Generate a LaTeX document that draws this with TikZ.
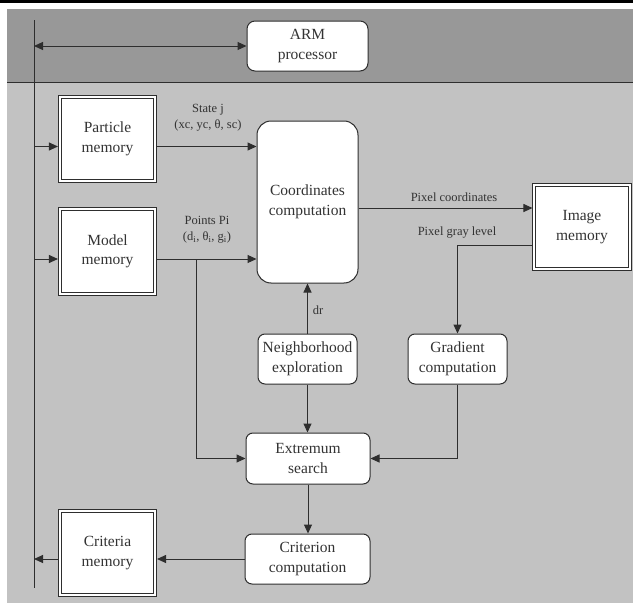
\documentclass[tikz,border=0pt]{standalone}
\usepackage{fontspec}
\setmainfont{Liberation Serif}
\usetikzlibrary{arrows.meta}
\definecolor{bandgray}{HTML}{989898}
\definecolor{lightgray2}{HTML}{C2C2C2}
\definecolor{linegray}{HTML}{2E2E2E}
\definecolor{textgray}{HTML}{333333}
\begin{document}
\begin{tikzpicture}[x=1pt,y=-1pt,
  >={Triangle[length=9pt,width=8pt]},
  rbox/.style={draw=linegray, fill=white, rounded corners=7pt, line width=1pt,
    align=center, inner sep=0pt, font=\fontsize{15.5}{19.5}\selectfont, text=textgray},
  mem/.style={draw=linegray, fill=white, double=white, double distance=1.8pt, line width=0.9pt,
    minimum width=95.5pt, minimum height=84.5pt, outer sep=1.8pt,
    align=center, inner sep=0pt, font=\fontsize{15.5}{19.5}\selectfont, text=textgray},
  lbl/.style={font=\fontsize{12.5}{16}\selectfont, text=textgray, align=center, inner sep=0pt},
  arr/.style={->, draw=linegray, line width=1pt},
  wire/.style={draw=linegray, line width=1pt}]
% background
\useasboundingbox (0,0) rectangle (633,605);
\fill[white] (0,0) rectangle (633,605);
\fill[lightgray2] (7,9) rectangle (633,603);
\fill[bandgray] (7,9) rectangle (633,82);
\draw[linegray, line width=1pt] (7,82) -- (633,82);
\draw[black, line width=2.5pt] (0,1.25) -- (633,1.25);
% nodes
\node[rbox, minimum width=121pt, minimum height=50pt, rounded corners=8pt] (arm) at (307.5,46) {ARM\\processor};
\node[mem] (part) at (107.5,139) {Particle\\memory};
\node[mem] (model) at (107.5,251.5) {Model\\memory};
\node[mem] (imgm) at (582,227) {Image\\memory};
\node[mem] (crit) at (107.5,553) {Criteria\\memory};
\node[rbox, minimum width=101pt, minimum height=162pt, rounded corners=14pt] (coord) at (307.5,202) {Coordinates\\computation};
\node[rbox, minimum width=99pt, minimum height=50pt] (neigh) at (307.5,359) {Neighborhood\\exploration};
\node[rbox, minimum width=99pt, minimum height=50pt] (grad) at (457.5,359) {Gradient\\computation};
\node[rbox, minimum width=124pt, minimum height=51pt] (extr) at (308,458.5) {Extremum\\search};
\node[rbox, minimum width=125pt, minimum height=50pt] (critc) at (307.5,559) {Criterion\\computation};
% labels
\node[lbl] (lstate) at (208,118) {State j\\(xc, yc, θ, sc)};
\node[lbl] (lpoints) at (207,230) {Points Pi\\(d\textsubscript{i}, θ\textsubscript{i}, g\textsubscript{i})};
\node[lbl] (lpixc) at (454,197) {Pixel coordinates};
\node[lbl] (lpixg) at (457,233) {Pixel gray level};
\node[lbl] (ldr) at (318,310) {dr};
% bus
\coordinate (bt) at (34,20);
\coordinate (bb) at (34,588);
\draw[wire] (bt) -- (bb);
\coordinate (barm) at (34,46);
\draw[arr, <->] (barm) -- (arm.west);
% memories to coordinates
\coordinate (p1) at (34,146.5);
\draw[arr] (p1) -- (p1 -| part.west);
\draw[arr] (p1 -| part.east) -- (p1 -| coord.west);
\coordinate (m1) at (34,259);
\draw[arr] (m1) -- (m1 -| model.west);
\draw[arr] (m1 -| model.east) -- (m1 -| coord.west);
\coordinate (br) at (196,259);
\draw[arr] (br) |- (extr.west);
% coordinates to image memory
\coordinate (pc) at (400,208);
\draw[arr] (pc -| coord.east) -- (pc -| imgm.west);
\coordinate (g0) at (500,245);
\draw[arr] (g0 -| imgm.west) -| (grad.north);
\draw[arr] (grad.south) |- (extr.east);
% neighborhood
\draw[arr] (neigh.north) -- (coord.south);
\draw[arr] (neigh.south) -- (neigh.south |- extr.north);
\draw[arr] (extr.south) -- (extr.south |- critc.north);
\draw[arr] (critc.west) -- (critc.west -| crit.east);
\draw[arr] (critc.west -| crit.west) -- (critc.west -| bb);
\end{tikzpicture}
\end{document}
